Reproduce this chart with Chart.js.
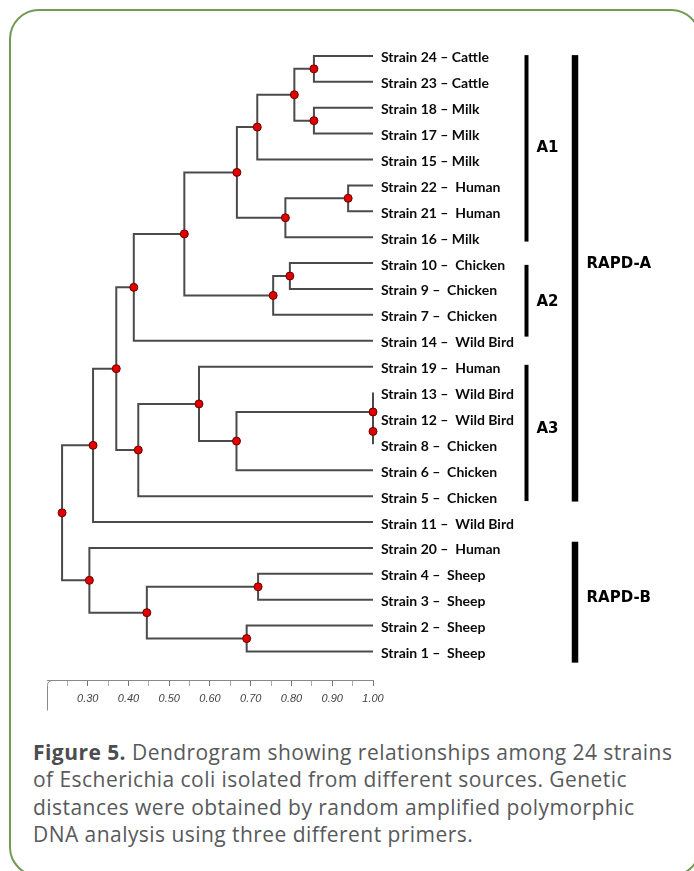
<!DOCTYPE html>
<html>
<head>
<meta charset="utf-8">
<script src="https://cdn.jsdelivr.net/npm/chart.js@4.4.1/dist/chart.umd.min.js"></script>
<style>
  html, body { margin: 0; padding: 0; background: #fff; overflow: hidden; }
  body { width: 694px; height: 871px; position: relative; }
  .frame { position: absolute; left: 9px; top: 9px; width: 692px; height: 868px; box-sizing: border-box;
           border: 2.5px solid #719a55; border-radius: 30px; }
  #wrap { position: absolute; left: 0; top: 0; width: 694px; height: 720px; }
  .caption { position: absolute; left: 33px; top: 739px; font-family: 'Open Sans'; font-size: 21px;
             letter-spacing: 0.45px; line-height: 27.3px; color: #58595b; white-space: nowrap; }
  .caption b { font-weight: 700; color: #4d4d4f; }
</style>
</head>
<body>
<div class="frame"></div>
<div id="wrap"><canvas id="dendro" width="694" height="720"></canvas></div>
<div class="caption">
  <b>Figure 5.</b> Dendrogram showing relationships among 24 strains<br>
  of Escherichia coli isolated from different sources. Genetic<br>
  distances were obtained by random amplified polymorphic<br>
  DNA analysis using three different primers.
</div>
<script>
// leaves, top to bottom
const leafLabels = [
  'Strain 24 – Cattle', 'Strain 23 – Cattle', 'Strain 18 – Milk', 'Strain 17 – Milk',
  'Strain 15 – Milk', 'Strain 22 –  Human', 'Strain 21 –  Human', 'Strain 16 – Milk',
  'Strain 10 –  Chicken', 'Strain 9 –  Chicken', 'Strain 7 –  Chicken', 'Strain 14 –  Wild Bird',
  'Strain 19 –  Human', 'Strain 13 –  Wild Bird', 'Strain 12 –  Wild Bird', 'Strain 8 –  Chicken',
  'Strain 6 –  Chicken', 'Strain 5 –  Chicken', 'Strain 11 –  Wild Bird', 'Strain 20 –  Human',
  'Strain 4 –  Sheep', 'Strain 3 –  Sheep', 'Strain 2 –  Sheep', 'Strain 1 –  Sheep'
];
const leafHeight = 1.0;

// merges, linkage style: ids 0-23 are leaves, merge k gets id 24 + k
const mergePairs = [
  [0, 1], [2, 3], [24, 25], [26, 4], [5, 6], [28, 7], [27, 29], [8, 9],
  [31, 10], [30, 32], [33, 11], [14, 15], [13, 35], [36, 16], [12, 37], [38, 17],
  [34, 39], [40, 18], [20, 21], [22, 23], [42, 43], [19, 44], [41, 45]
];
const mergeHeights = [
  0.855, 0.855, 0.807, 0.716, 0.939, 0.785, 0.666, 0.796,
  0.755, 0.537, 0.413, 1.0, 1.0, 0.665, 0.573, 0.424,
  0.370, 0.313, 0.718, 0.690, 0.445, 0.304, 0.237
];

// scale bar
const xTickValues = [0.25, 0.30, 0.35, 0.40, 0.45, 0.50, 0.55, 0.60, 0.65, 0.70, 0.75, 0.80, 0.85, 0.90, 0.95, 1.00];
const xTickLabels = ['', '0.30', '', '0.40', '', '0.50', '', '0.60', '', '0.70', '', '0.80', '', '0.90', '', '1.00'];

// cluster brackets (in leaf rows)
const groupNames = ['A1', 'A2', 'A3', 'RAPD-A', 'RAPD-B'];
const groupStart = [-0.03, 8.07, 11.93, -0.03, 18.76];
const groupEnd = [7.17, 10.84, 17.19, 17.21, 23.43];
const groupLabelRow = [3.57, 9.49, 14.42, 8.03, 20.94];
const groupLevel = [0, 0, 0, 1, 1];

// node positions
const nodeX = leafLabels.map(() => leafHeight);
const nodeY = leafLabels.map((_, i) => i);
mergePairs.forEach(([a, b], k) => {
  nodeX.push(mergeHeights[k]);
  nodeY.push((nodeY[a] + nodeY[b]) / 2);
});

const branchPoints = [];
mergePairs.forEach(([a, b], k) => {
  const h = mergeHeights[k];
  branchPoints.push(
    {x: nodeX[a], y: nodeY[a]}, {x: h, y: nodeY[a]},
    {x: h, y: nodeY[b]}, {x: nodeX[b], y: nodeY[b]},
    {x: h, y: null}
  );
});
const nodePoints = mergePairs.map((_, k) => ({x: nodeX[24 + k], y: nodeY[24 + k]}));

const extrasPlugin = {
  id: 'extras',
  afterDraw(chart) {
    const {ctx, scales: {x, y}, chartArea} = chart;
    ctx.save();
    // hooked left end of the scale bar
    const x0 = Math.round(x.getPixelForValue(0.2)) + 0.5, yb = Math.round(chartArea.bottom) + 0.5;
    ctx.strokeStyle = '#8a8a8a';
    ctx.lineWidth = 1;
    ctx.beginPath();
    ctx.moveTo(x0 + 5, yb);
    ctx.quadraticCurveTo(x0, yb, x0, yb + 5);
    ctx.lineTo(x0, yb + 30);
    ctx.stroke();

    // brackets
    groupNames.forEach((name, i) => {
      const outer = groupLevel[i] === 1;
      const cx = outer ? 575 : 526.5;
      const w = outer ? 6.5 : 4;
      const top = y.getPixelForValue(groupStart[i]);
      const bot = y.getPixelForValue(groupEnd[i]);
      ctx.fillStyle = '#000';
      ctx.fillRect(cx - w / 2, top, w, bot - top);
      ctx.font = 'bold 15px "DejaVu Sans"';
      ctx.textAlign = 'left';
      ctx.textBaseline = 'middle';
      ctx.fillText(name, outer ? 586.5 : 536.5, y.getPixelForValue(groupLabelRow[i]));
    });
    ctx.restore();
  }
};

function draw() {
  new Chart(document.getElementById('dendro'), {
    type: 'line',
    data: {
      datasets: [
        {
          data: nodePoints,
          showLine: false,
          pointRadius: 4,
          pointBackgroundColor: '#e00000',
          pointBorderColor: '#6a0000',
          pointBorderWidth: 1,
          clip: false
        },
        {
          data: branchPoints,
          borderColor: '#4b4b4b',
          borderWidth: 2,
          pointRadius: 0,
          spanGaps: false,
          tension: 0,
          borderJoinStyle: 'miter',
          clip: false
        }
      ]
    },
    options: {
      responsive: false,
      animation: false,
      devicePixelRatio: 1,
      layout: { padding: { top: 30, bottom: 10, left: 47, right: 0 } },
      plugins: { legend: { display: false }, tooltip: { enabled: false } },
      scales: {
        x: {
          type: 'linear',
          min: 0.2,
          max: 1.0,
          position: 'bottom',
          border: { display: true, color: '#8a8a8a', width: 1 },
          grid: {
            drawOnChartArea: false,
            drawTicks: true,
            tickLength: 6,
            tickColor: (c) => xTickLabels[c.index] ? '#777' : '#aaa'
          },
          afterBuildTicks: (s) => { s.ticks = xTickValues.map(v => ({value: v})); },
          afterFit: (s) => { s.height = 30; },
          ticks: {
            autoSkip: false,
            maxRotation: 0,
            padding: 6,
            color: '#444',
            font: { family: 'Liberation Sans', style: 'italic', size: 11 },
            callback: (v, i) => xTickLabels[i]
          }
        },
        y: {
          type: 'linear',
          position: 'right',
          reverse: true,
          min: -1,
          max: 24.1,
          border: { display: false },
          grid: { display: false, drawTicks: false },
          afterBuildTicks: (s) => { s.ticks = leafLabels.map((_, i) => ({value: i})); },
          afterFit: (s) => { s.width = 321; },
          ticks: {
            autoSkip: false,
            padding: 8,
            labelOffset: 2,
            crossAlign: 'near',
            color: '#0a0a0a',
            font: { family: 'Lato', weight: 'bold', size: 14 },
            callback: (v) => leafLabels[v]
          }
        }
      }
    },
    plugins: [extrasPlugin]
  });
}

Promise.all([
  document.fonts.load('bold 14px Lato'),
  document.fonts.load('bold 15px "DejaVu Sans"'),
  document.fonts.load('italic 11px "Liberation Sans"')
]).then(draw, draw);
</script>
</body>
</html>
